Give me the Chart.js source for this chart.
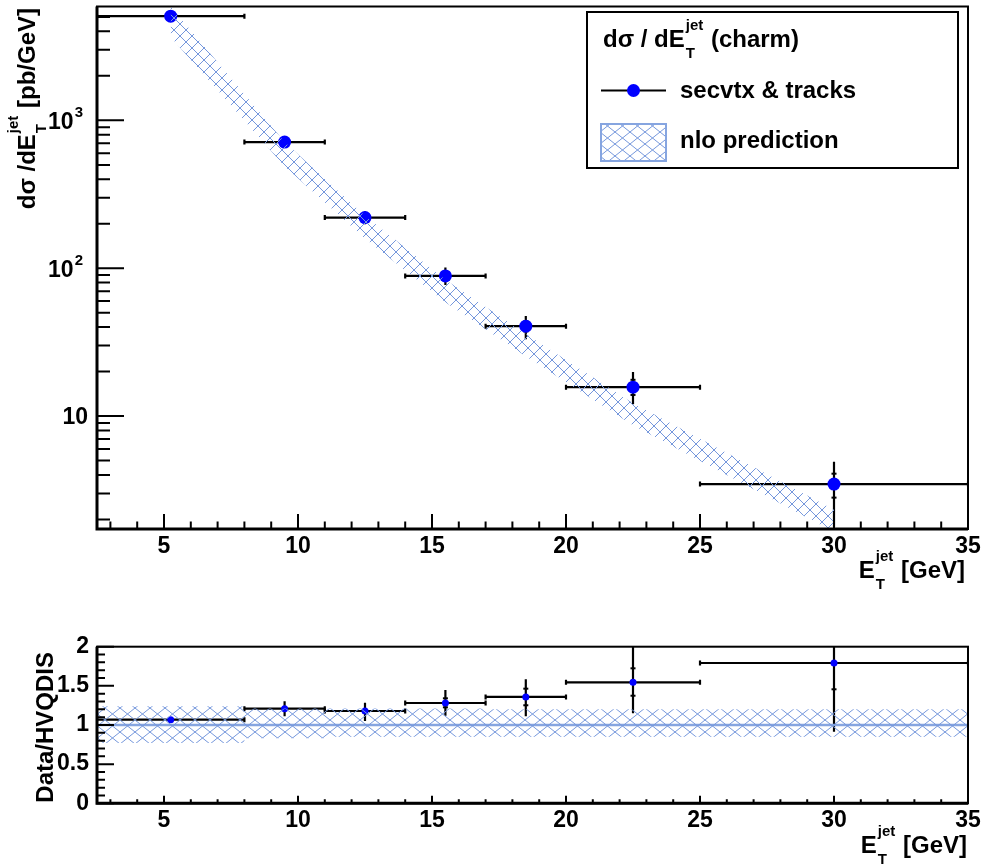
<!DOCTYPE html>
<html><head><meta charset="utf-8">
<script src="https://cdn.jsdelivr.net/npm/chart.js@4"></script>
<style>
html,body{margin:0;padding:0;background:#fff;}
#wrap{position:relative;width:989px;height:864px;overflow:hidden;}
#top{position:absolute;left:0;top:0;}
#bot{position:absolute;left:0;top:600px;}
</style></head><body>
<div id="wrap"><canvas id="top" width="989" height="600"></canvas><canvas id="bot" width="989" height="264"></canvas></div>
<script>
// ---- data ----
const xTicks=[5,10,15,20,25,30,35];
const yTopTicks=[10,100,1000];
const yTopLabels=['10','10\u00b2','10\u00b3'];
const yBotTicks=[0,0.5,1,1.5,2];
const yBotLabels=['0','0.5','1','1.5','2'];
const binLo=[2.5,8,11,14,17,20,25];
const binHi=[8,11,14,17,20,25,35];
const binCenter=[5.25,9.5,12.5,15.5,18.5,22.5,30];
const xsec=[5070,713,220,88.7,40.6,15.7,3.47];
const xsecLo=[4920,660,198,77,33.1,12.05,1.78];
const xsecHi=[5220,770,243,101,47.5,19.9,4.92];
const xsecStatLo=[null,null,null,84.8,37.4,13.9,2.81];
const xsecStatHi=[null,null,null,92.8,43.8,17.6,4.08];
const nlo=[4750,590,187,69.2,29.9,10.2,1.94];
const nloRelLo=[0.77,0.83,0.85,0.85,0.85,0.85,0.85];
const nloRelHi=[1.24,1.21,1.21,1.21,1.20,1.20,1.20];
const ratio=[1.068,1.208,1.179,1.281,1.358,1.545,1.792];
const ratioLo=[1.05,1.111,1.051,1.119,1.111,1.149,0.914];
const ratioHi=[1.086,1.303,1.285,1.447,1.584,2.02,2.54];
const ratioStatLo=[null,null,null,1.226,1.252,1.374,1.456];
const ratioStatHi=[null,null,null,1.341,1.464,1.724,2.13];

// ---- styling ----
const FONT='"Liberation Sans", Arial, Helvetica, sans-serif';
const HATCH='#7597dc';
const BLUE='#0000ff';
function hatch(w,h,color){
  const c=document.createElement('canvas');c.width=w;c.height=h;
  const g=c.getContext('2d');g.strokeStyle=color;g.lineWidth=1;
  g.beginPath();g.moveTo(0,0);g.lineTo(w,h);g.moveTo(w,0);g.lineTo(0,h);g.stroke();
  return g.createPattern(c,'repeat');
}
const patTop=hatch(12,12,HATCH);
const patBot=hatch(15,12,HATCH);

function richWidth(ctx,segs,size,small){
  let w=0;
  for(const s of segs){
    if(typeof s==='string'){ctx.font='bold '+size+'px '+FONT;w+=ctx.measureText(s).width;}
    else{ctx.font='bold '+small+'px '+FONT;w+=Math.max(ctx.measureText(s.sup||'').width,ctx.measureText(s.sub||'').width)+2;}
  }
  return w;
}
function drawRich(ctx,segs,x,y,size,small,align,supUp){
  ctx.save();ctx.fillStyle='#000';ctx.textBaseline='alphabetic';ctx.textAlign='left';
  let cx=x; if(align==='right') cx=x-richWidth(ctx,segs,size,small);
  const up=supUp||0.72;
  for(const s of segs){
    if(typeof s==='string'){ctx.font='bold '+size+'px '+FONT;ctx.fillText(s,cx,y);cx+=ctx.measureText(s).width;}
    else{ctx.font='bold '+small+'px '+FONT;
      if(s.sup)ctx.fillText(s.sup,cx+1,y-size*up);
      if(s.sub)ctx.fillText(s.sub,cx+1,y+size*0.44);
      cx+=Math.max(ctx.measureText(s.sup||'').width,ctx.measureText(s.sub||'').width)+2;}
  }
  ctx.restore();
}
const ET=[ 'E',{sup:'jet',sub:'T'},' [GeV]'];

function drawErr(chart,c){
  const {ctx,chartArea:a,scales:{x,y}}=chart;
  ctx.save();ctx.beginPath();ctx.rect(a.left,a.top,a.right-a.left,a.bottom-a.top);ctx.clip();
  ctx.strokeStyle='#000';ctx.fillStyle='#000';ctx.lineWidth=c.lw;
  for(let i=0;i<c.v.length;i++){
    const px=x.getPixelForValue(binCenter[i]),py=y.getPixelForValue(c.v[i]);
    const xl=x.getPixelForValue(binLo[i]),xr=x.getPixelForValue(binHi[i]);
    const yl=y.getPixelForValue(c.lo[i]),yh=y.getPixelForValue(c.hi[i]);
    ctx.beginPath();ctx.moveTo(xl,py);ctx.lineTo(xr,py);
    ctx.moveTo(px,yl);ctx.lineTo(px,yh);
    ctx.moveTo(xl,py-c.cap);ctx.lineTo(xl,py+c.cap);
    ctx.moveTo(xr,py-c.cap);ctx.lineTo(xr,py+c.cap);
    ctx.stroke();
    for(const s of [c.sl[i],c.sh[i]]){ if(s!==null){const ys=y.getPixelForValue(s);ctx.fillRect(px-2.5,ys-1,5,2);} }
  }
  ctx.restore();
}
function drawFrame(chart,o){
  const {ctx,chartArea:a,scales:{x,y}}=chart;
  ctx.save();ctx.strokeStyle='#000';ctx.lineWidth=2;ctx.beginPath();
  for(let v=3;v<=35;v++){const px=x.getPixelForValue(v);const L=(v%5===0)?o.xMaj:o.xMin;ctx.moveTo(px,a.bottom);ctx.lineTo(px,a.bottom-L);}
  for(const t of o.yT){const py=y.getPixelForValue(t.v);if(py<a.top-0.5||py>a.bottom+0.5)continue;ctx.moveTo(a.left,py);ctx.lineTo(a.left+(t.m?o.yMaj:o.yMin),py);}
  ctx.stroke();
  ctx.lineWidth=2;ctx.strokeRect(a.left,a.top,a.right-a.left,a.bottom-a.top);
  ctx.lineWidth=3;ctx.beginPath();ctx.moveTo(a.left,a.top);ctx.lineTo(a.left,a.bottom);ctx.lineTo(a.right,a.bottom);ctx.stroke();
  ctx.restore();
}
const errPlugin={id:'errbars',beforeDatasetDraw(chart,args,opts){if(args.index===opts.index)drawErr(chart,opts);}};
const framePlugin={id:'frame',afterDatasetsDraw(chart,args,opts){drawFrame(chart,opts);opts.extra&&opts.extra(chart);}};

const tickFont={size:23,weight:'bold',family:FONT};
function noPad(s){s.paddingTop=0;s.paddingBottom=0;s.paddingLeft=0;s.paddingRight=0;}
function xScale(h){return {type:'linear',min:2.5,max:35,grid:{display:false,drawTicks:false},border:{display:false},
  afterBuildTicks:s=>{s.ticks=xTicks.map(v=>({value:v}));},afterFit:s=>{s.height=h;noPad(s);},
  ticks:{font:tickFont,color:'#000',padding:4,maxRotation:0,autoSkip:false}};}

// minor tick lists
const topYT=[];for(let d=0;d<4;d++)for(let m=1;m<10;m++)topYT.push({v:m*Math.pow(10,d),m:m===1});
const botYT=[];for(let i=0;i<=20;i++)botYT.push({v:i/10,m:i%5===0});

// top y labels: "10" with raised exponent digit
function drawTopYLabels(chart){
  const {ctx,scales:{y}}=chart;
  y.ticks.forEach((t,i)=>{
    const lab=yTopLabels[i];const py=y.getPixelForValue(t.value);
    const base=lab.slice(0,2),exp=lab.length>2?({'\u00b2':'2','\u00b3':'3'})[lab[2]]:null;
    const segs=exp?[base,{sup:exp}]:[base];
    drawRich(ctx,segs,exp?84:88,py+8.3,23,15,'right',0.5);
  });
}

// ---- top chart ----
new Chart(document.getElementById('top'),{
  type:'scatter',
  data:{datasets:[
    {type:'line',data:binCenter.map((x,i)=>({x,y:nlo[i]*nloRelHi[i]})),borderColor:'rgba(0,0,0,0)',borderWidth:0,pointRadius:0,fill:false,tension:0},
    {type:'line',data:binCenter.map((x,i)=>({x,y:nlo[i]*nloRelLo[i]})),borderColor:'rgba(0,0,0,0)',borderWidth:0,pointRadius:0,fill:'-1',backgroundColor:patTop,tension:0},
    {type:'scatter',data:binCenter.map((x,i)=>({x,y:xsec[i]})),pointRadius:6.5,pointBackgroundColor:BLUE,pointBorderColor:BLUE,pointBorderWidth:0}
  ]},
  options:{responsive:false,animation:false,events:[],
    layout:{padding:{left:0,right:21,top:5,bottom:0}},
    plugins:{legend:{display:false},tooltip:{enabled:false},
      errbars:{index:2,v:xsec,lo:xsecLo,hi:xsecHi,sl:xsecStatLo,sh:xsecStatHi,lw:2.2,cap:2.5},
      frame:{xMaj:15,xMin:7.5,yMaj:27,yMin:13,yT:topYT,extra:(chart)=>{
        const ctx=chart.ctx;
        drawTopYLabels(chart);
        drawRich(ctx,ET,965,578,24,15,'right');
        ctx.save();ctx.translate(35,8);ctx.rotate(-Math.PI/2);
        drawRich(ctx,['d\u03c3 /dE',{sup:'jet',sub:'T'},' [pb/GeV]'],0,0,24,15,'right');ctx.restore();
        // legend
        ctx.save();ctx.fillStyle='#fff';ctx.fillRect(587,12,371,156);
        ctx.strokeStyle='#000';ctx.lineWidth=2;ctx.strokeRect(587,12,371,156);
        drawRich(ctx,['d\u03c3 / dE',{sup:'jet',sub:'T'},' (charm)'],603,47,24,15,'left');
        ctx.beginPath();ctx.moveTo(601,90.5);ctx.lineTo(666,90.5);ctx.stroke();
        ctx.fillStyle=BLUE;ctx.beginPath();ctx.arc(633.5,90.5,6.5,0,Math.PI*2);ctx.fill();
        ctx.fillStyle=patBot;ctx.fillRect(601,124,65,37);
        ctx.strokeStyle='#86a5e0';ctx.lineWidth=2;ctx.strokeRect(601,124,65,37);
        ctx.fillStyle='#000';ctx.font='bold 24px '+FONT;ctx.textBaseline='middle';
        ctx.fillText('secvtx & tracks',680,91);ctx.fillText('nlo prediction',680,141);
        ctx.restore();
      }}},
    scales:{x:xScale(71),
      y:{type:'logarithmic',min:1.724,max:5890,grid:{display:false,drawTicks:false},border:{display:false},
        afterBuildTicks:s=>{s.ticks=yTopTicks.map(v=>({value:v}));},afterFit:s=>{s.width=97;noPad(s);},
        ticks:{display:false,font:tickFont,color:'#000',padding:9,autoSkip:false,callback:(v,i)=>yTopLabels[i]}}}
  },
  plugins:[errPlugin,framePlugin]
});

// ---- bottom chart ----
const stepPts=(arr)=>{const p=[];for(let i=0;i<binLo.length;i++){p.push({x:binLo[i],y:arr[i]});p.push({x:binHi[i],y:arr[i]});}return p;};
new Chart(document.getElementById('bot'),{
  type:'scatter',
  data:{datasets:[
    {type:'line',data:stepPts(nloRelHi),borderColor:'rgba(0,0,0,0)',borderWidth:0,pointRadius:0,fill:false,tension:0},
    {type:'line',data:stepPts(nloRelLo),borderColor:'rgba(0,0,0,0)',borderWidth:0,pointRadius:0,fill:'-1',backgroundColor:patBot,tension:0},
    {type:'line',data:[{x:2.5,y:1},{x:35,y:1}],borderColor:'#86a5e0',borderWidth:2.5,pointRadius:0,fill:false},
    {type:'scatter',data:binCenter.map((x,i)=>({x,y:ratio[i]})),pointRadius:3.5,pointBackgroundColor:BLUE,pointBorderColor:BLUE,pointBorderWidth:0}
  ]},
  options:{responsive:false,animation:false,events:[],
    layout:{padding:{left:0,right:21,top:46.7,bottom:0}},
    plugins:{legend:{display:false},tooltip:{enabled:false},
      errbars:{index:3,v:ratio,lo:ratioLo,hi:ratioHi,sl:ratioStatLo,sh:ratioStatHi,lw:2.2,cap:2.5},
      frame:{xMaj:7.5,xMin:4,yMaj:17,yMin:8,yT:botYT,extra:(chart)=>{
        const ctx=chart.ctx;
        drawRich(ctx,ET,967,253,24,15,'right');
        ctx.save();ctx.translate(53,52);ctx.rotate(-Math.PI/2);
        ctx.fillStyle='#000';ctx.font='bold 24px '+FONT;ctx.textAlign='right';ctx.textBaseline='alphabetic';
        ctx.fillText('Data/HVQDIS',0,0);ctx.restore();
      }}},
    scales:{x:xScale(60.7),
      y:{type:'linear',min:0,max:2,grid:{display:false,drawTicks:false},border:{display:false},
        afterBuildTicks:s=>{s.ticks=yBotTicks.map(v=>({value:v}));},afterFit:s=>{s.width=97;noPad(s);},
        ticks:{font:tickFont,color:'#000',padding:8,autoSkip:false,callback:(v,i)=>yBotLabels[i]}}}
  },
  plugins:[errPlugin,framePlugin]
});
</script>
</body></html>
